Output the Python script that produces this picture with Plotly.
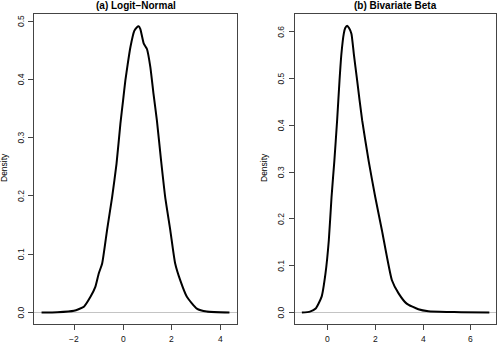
import plotly.graph_objects as go

# (a) Logit-Normal density estimate
logit_x = [-3.35, -2.7, -2.02, -1.61, -1.34, -1.14, -1.0, -0.86, -0.66, -0.45, -0.27,
           -0.11, 0.0, 0.094, 0.19, 0.30, 0.46, 0.56, 0.64, 0.71, 0.85, 0.98, 1.12,
           1.25, 1.39, 1.56, 1.73, 1.94, 2.14, 2.35, 2.62, 3.03, 3.44, 4.37]
logit_y = [0.0, 0.0005, 0.003, 0.010, 0.027, 0.044, 0.067, 0.084, 0.141, 0.198, 0.255,
           0.324, 0.364, 0.398, 0.426, 0.455, 0.483, 0.489, 0.491, 0.486, 0.461, 0.452,
           0.421, 0.375, 0.329, 0.261, 0.198, 0.141, 0.084, 0.055, 0.027, 0.0068,
           0.0017, 0.0]

# (b) Bivariate Beta density estimate
beta_x = [-1.09, -0.75, -0.51, -0.26, -0.1, 0.04, 0.155, 0.27, 0.39, 0.49, 0.57, 0.67,
          0.73, 0.81, 0.89, 0.99, 1.09, 1.23, 1.44, 1.72, 1.99, 2.27, 2.69, 2.97, 3.31,
          3.80, 4.22, 5.0, 5.6, 6.78]
beta_y = [0.0, 0.002, 0.0085, 0.034, 0.083, 0.154, 0.247, 0.322, 0.411, 0.496, 0.553,
          0.596, 0.608, 0.613, 0.608, 0.596, 0.553, 0.496, 0.411, 0.322, 0.247, 0.176,
          0.069, 0.041, 0.019, 0.0071, 0.0028, 0.0012, 0.0007, 0.0]

titles = ["(a) Logit\u2212Normal", "(b) Bivariate Beta"]
logit_xticks = [-2, 0, 2, 4]
beta_xticks = [0, 2, 4, 6]
logit_yticks = [0.0, 0.1, 0.2, 0.3, 0.4, 0.5]
beta_yticks = [0.0, 0.1, 0.2, 0.3, 0.4, 0.5, 0.6]

W, H = 497, 343
FONT = "Liberation Sans, Arial, Helvetica, sans-serif"
BOX = "#444444"
TICKFONT = dict(size=8.5, color="#111")

fig = go.Figure()
fig.add_trace(go.Scatter(x=logit_x, y=logit_y, mode="lines", xaxis="x", yaxis="y",
                         line=dict(color="black", width=2, shape="spline", smoothing=0.5),
                         showlegend=False, hoverinfo="skip"))
fig.add_trace(go.Scatter(x=beta_x, y=beta_y, mode="lines", xaxis="x2", yaxis="y2",
                         line=dict(color="black", width=2, shape="spline", smoothing=0.5),
                         showlegend=False, hoverinfo="skip"))


def xax(dom, rng, ticks, anchor):
  return dict(domain=dom, range=rng, tickvals=ticks, ticks="outside", ticklen=5,
              tickcolor=BOX, showline=True, linecolor=BOX, linewidth=1, mirror=True,
              showgrid=False, zeroline=False, anchor=anchor, showticklabels=False)


def yax(dom, rng, ticks, anchor):
  return dict(domain=dom, range=rng, tickvals=ticks, ticks="outside", ticklen=5,
              tickcolor=BOX, showline=True, linecolor=BOX, linewidth=1, mirror=True,
              showgrid=False, zeroline=True, zerolinecolor="#c4c4c4", zerolinewidth=1,
              anchor=anchor, showticklabels=False)


ydom = [(H - 324) / H, (H - 14) / H]
fig.update_layout(
  width=W, height=H, margin=dict(l=0, r=0, t=0, b=0),
  paper_bgcolor="white", plot_bgcolor="white",
  font=dict(family=FONT, color="#222"),
  xaxis=xax([34 / W, 237 / W], [-3.66, 4.68], logit_xticks, "y"),
  yaxis=yax(ydom, [-0.0197, 0.512], logit_yticks, "x"),
  xaxis2=xax([294.5 / W, 496 / W], [-1.40, 7.06], beta_xticks, "y2"),
  yaxis2=yax(ydom, [-0.0245, 0.638], beta_yticks, "x2"),
)

# tick labels placed R-style (y labels rotated, parallel to the axis)
for xr, ticks in [("x", logit_xticks), ("x2", beta_xticks)]:
  for v in ticks:
    fig.add_annotation(x=v, y=1 - 339 / H, xref=xr, yref="paper",
                       text=str(v).replace("-", "\u2212"), showarrow=False,
                       font=TICKFONT, xanchor="center", yanchor="middle")
for yr, px, ticks in [("y", 21, logit_yticks), ("y2", 281, beta_yticks)]:
  for v in ticks:
    fig.add_annotation(x=px / W, y=v, xref="paper", yref=yr, text="%.1f" % v,
                       showarrow=False, textangle=-90, font=TICKFONT,
                       xanchor="center", yanchor="middle")

# panel titles and y-axis labels
for cx, t in [((34 + 237) / 2 / W, titles[0]), ((294.5 + 496) / 2 / W, titles[1])]:
  fig.add_annotation(x=cx, y=1 - 5 / H, xref="paper", yref="paper", text="<b>%s</b>" % t,
                     showarrow=False, font=dict(size=10, color="black"),
                     xanchor="center", yanchor="middle")
for lx in [4, 264]:
  fig.add_annotation(x=lx / W, y=1 - 168 / H, xref="paper", yref="paper", text="Density",
                     showarrow=False, textangle=-90, font=dict(size=8.5, color="black"),
                     xanchor="center", yanchor="middle")

# the page body has a default 8px margin; drop it so the chart sits at the window corner
fig.write_html("out.html", config={"displayModeBar": False},
               post_script="document.body.style.margin='0';")
